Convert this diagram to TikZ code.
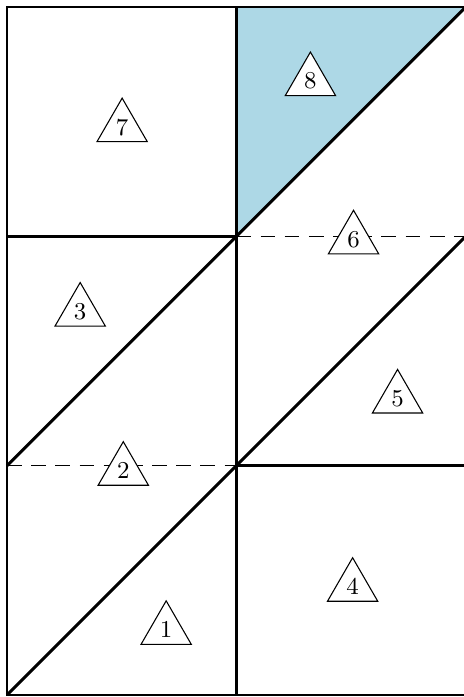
\documentclass[tikz,border=0pt]{standalone}
\usepackage{tikz}
\usetikzlibrary{shapes.geometric}
\definecolor{paleblue}{RGB}{173,216,230}
\tikzset{edge/.style={line width=1.1pt},cut/.style={line width=.5pt,dash pattern=on 5.5pt off 3.5pt},
  piece/.style={draw,fill=white,line width=.4pt,regular polygon,regular polygon sides=3,minimum size=.76cm,inner sep=0pt,font=\small}}

\begin{document}
\begin{tikzpicture}[x=3cm,y=3cm]
\useasboundingbox (-.0306,-.0087) rectangle (1.99,3.0306);
\coordinate (O) at (0,0);\coordinate (A) at (1,1);\coordinate (B) at (1,2);\coordinate (C) at (0,1);
\fill[paleblue] (1,3)--(2,3)--(B)--cycle;
\draw[edge] (O) rectangle (2,3);\draw[edge] (1,0)--(1,3);
\draw[edge] (0,2)--(B);\draw[cut] (B)--(2,2);
\draw[cut] (C)--(A);\draw[edge] (A)--(2,1);
\draw[edge] (O)--(A);\draw[edge] (C)--(B);\draw[edge] (A)--(2,2);\draw[edge] (B)--(2,3);
\node[piece] (t1) at (.694,.284){1};\node[piece] (t2) at (.507,.978){2};
\node[piece] (t3) at (.319,1.672){3};\node[piece] (t4) at (1.507,.472){4};
\node[piece] (t5) at (1.703,1.293){5};\node[piece] (t6) at (1.511,1.987){6};
\node[piece] (t7) at (.502,2.476){7};\node[piece] (t8) at (1.323,2.677){8};
\end{tikzpicture}
\end{document}
